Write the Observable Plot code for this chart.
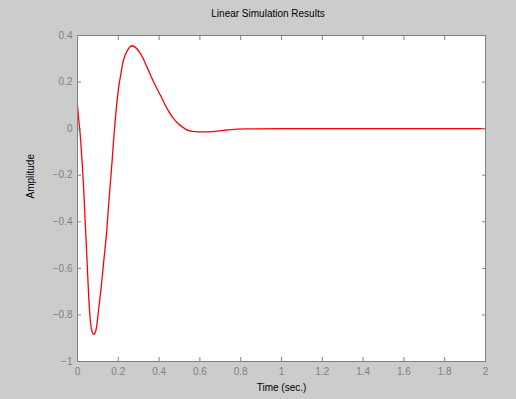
<!DOCTYPE html>
<html>
<head>
<meta charset="utf-8">
<script src="https://cdn.jsdelivr.net/npm/d3@7"></script>
<script src="https://cdn.jsdelivr.net/npm/@observablehq/plot@0.6"></script>
<style>
  html, body { margin: 0; padding: 0; background: #cccccc; }
  #wrap { width: 516px; height: 399px; background: #cccccc; font-family: "Liberation Sans", Arial, sans-serif; }
  #title { height: 26px; line-height: 28px; font-size: 10px; color: #000; text-align: center; padding-left: 20px; box-sizing: border-box; width: 516px; }
</style>
</head>
<body>
<div id="wrap">
  <div id="title">Linear Simulation Results</div>
  <div id="chart"></div>
</div>
<script>
const titleText = "Linear Simulation Results";
const xLabel = "Time (sec.)";
const yLabel = "Amplitude";

const time = [0, 0.0064, 0.013, 0.021, 0.028, 0.033, 0.039, 0.046, 0.052, 0.059, 0.067, 0.073, 0.080, 0.087, 0.093, 0.103, 0.116, 0.129, 0.142, 0.155, 0.168, 0.178, 0.190, 0.203, 0.214, 0.227, 0.244, 0.258, 0.268, 0.284, 0.309, 0.342, 0.374, 0.407, 0.440, 0.472, 0.505, 0.546, 0.603, 0.660, 0.717, 0.783, 0.85, 1.0, 1.5, 2.0];
const amplitude = [0.099, 0.034, -0.023, -0.123, -0.223, -0.309, -0.424, -0.553, -0.667, -0.781, -0.853, -0.875, -0.884, -0.875, -0.853, -0.781, -0.681, -0.567, -0.452, -0.300, -0.158, -0.040, 0.085, 0.185, 0.242, 0.299, 0.335, 0.352, 0.356, 0.349, 0.322, 0.262, 0.199, 0.142, 0.085, 0.042, 0.013, -0.009, -0.014, -0.013, -0.007, -0.002, -0.001, 0, 0, 0];

const xTicks = [0, 0.2, 0.4, 0.6, 0.8, 1, 1.2, 1.4, 1.6, 1.8, 2];
const yTicks = [-1, -0.8, -0.6, -0.4, -0.2, 0, 0.2, 0.4];

const data = time.map((t, i) => ({t, a: amplitude[i]}));
const fmt = d => d < 0 ? "\u2212" + String(Math.abs(d)) : String(d);
const gray = "#808080";

const plot = Plot.plot({
  width: 516,
  height: 373,
  marginTop: 9,
  marginBottom: 38,
  marginLeft: 77,
  marginRight: 31,
  style: {background: "transparent", fontFamily: "Liberation Sans, Arial, sans-serif", fontSize: "10px", color: gray},
  x: {domain: [0, 2]},
  y: {domain: [-1, 0.4]},
  marks: [
    Plot.frame({fill: "white", stroke: "none"}),
    Plot.line(data, {x: "t", y: "a", stroke: "#ff0000", strokeWidth: 1.3, curve: "catmull-rom"}),
    // labels
    Plot.axisY(yTicks, {anchor: "left", tickSize: 0, tickPadding: 5, tickFormat: fmt, fill: gray, label: null}),
    Plot.axisX(xTicks, {anchor: "bottom", tickSize: 0, tickPadding: 6, tickFormat: fmt, fill: gray, label: null}),
    // inward ticks
    Plot.axisY(yTicks, {anchor: "left", tickSize: 4, dx: 4, text: null, stroke: gray, label: null}),
    Plot.axisY(yTicks, {anchor: "right", tickSize: 4, dx: -4, text: null, stroke: gray, label: null}),
    Plot.axisX(xTicks, {anchor: "bottom", tickSize: 4, dy: -4, text: null, stroke: gray, label: null}),
    Plot.axisX(xTicks, {anchor: "top", tickSize: 4, dy: 4, text: null, stroke: gray, label: null}),
    Plot.frame({stroke: gray, strokeWidth: 1}),
    // axis titles
    Plot.text([yLabel], {frameAnchor: "left", dx: -47, rotate: -90, fill: "black", fontSize: 10}),
    Plot.text([xLabel], {frameAnchor: "bottom", dy: 29, fill: "black", fontSize: 10})
  ]
});
document.getElementById("chart").appendChild(plot);
</script>
</body>
</html>
